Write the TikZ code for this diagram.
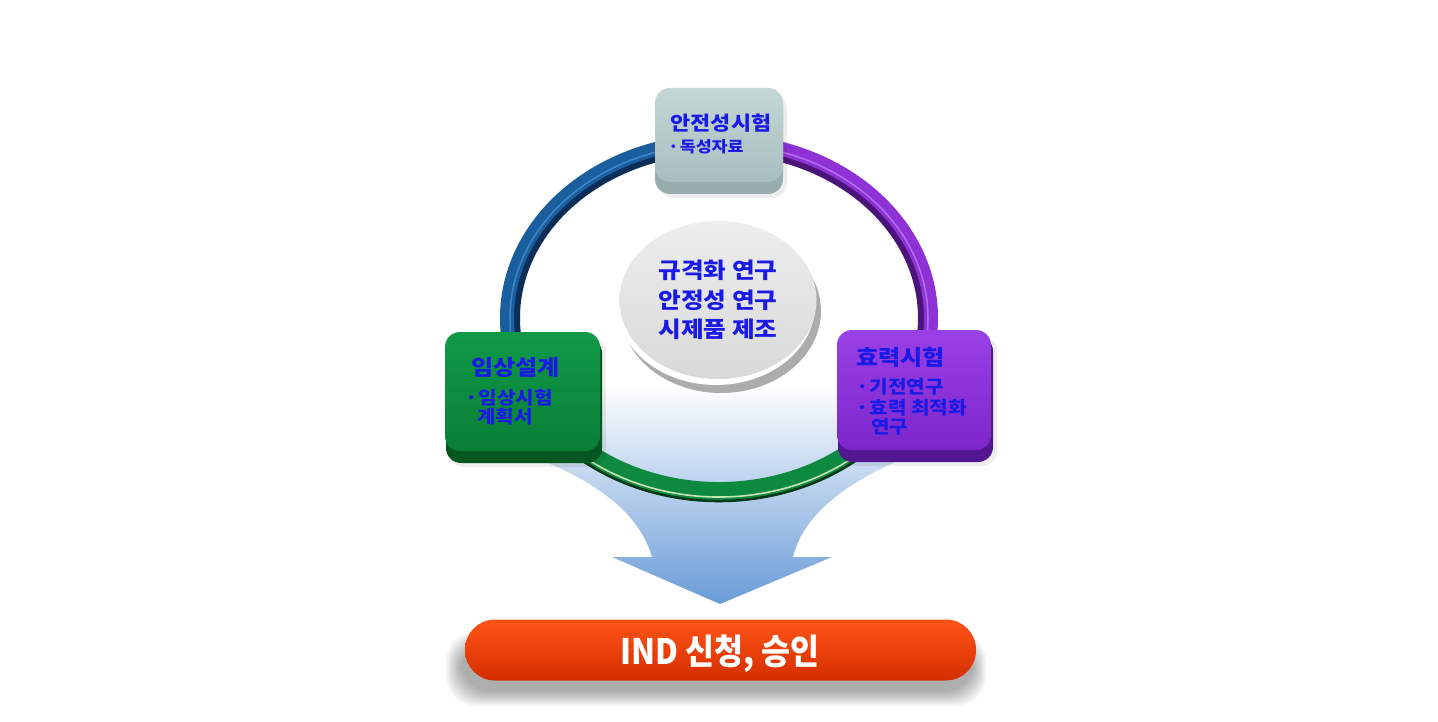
\documentclass[tikz,border=0pt]{standalone}
\usepackage{fontspec}
\newfontfamily\krw{Noto Sans CJK KR}[FakeStretch=1.12]
\newfontfamily\krn{Noto Sans CJK KR}[FakeStretch=0.9]
\usetikzlibrary{shapes.geometric}
\definecolor{txtblue}{HTML}{1A1AE6}
\definecolor{ringblue}{HTML}{1A5E9E}
\definecolor{ringbluedk}{HTML}{0A2E58}
\definecolor{ringbluelt}{HTML}{3A86C8}
\definecolor{ringpur}{HTML}{8E32D6}
\definecolor{ringpurdk}{HTML}{4A1478}
\definecolor{ringpurlt}{HTML}{B070EE}
\definecolor{ringgrn}{HTML}{0E8A40}
\definecolor{ringgrndk}{HTML}{053A18}
\definecolor{ringgrnlt}{HTML}{C8E4B4}
\definecolor{boxgraytop}{HTML}{C4D6D6}
\definecolor{boxgraybot}{HTML}{A8BEBE}
\definecolor{boxgraydk}{HTML}{98AEAE}
\definecolor{boxgrntop}{HTML}{109A48}
\definecolor{boxgrnbot}{HTML}{0A7E36}
\definecolor{boxgrndk}{HTML}{05561F}
\definecolor{boxpurtop}{HTML}{9A40E6}
\definecolor{boxpurbot}{HTML}{7C26CA}
\definecolor{boxpurdk}{HTML}{521690}
\definecolor{arrowmid}{HTML}{C2D7F0}
\definecolor{arrowdk}{HTML}{6A9CD8}
\definecolor{bartop}{HTML}{FF5418}
\definecolor{barmid}{HTML}{FF3C00}
\definecolor{barbot}{HTML}{D42E00}
\tikzset{
  ttl/.style={font=\krw\bfseries\fontsize{21.5}{21.5}\selectfont, text=txtblue, inner sep=0pt},
  subtxt/.style={font=\krw\bfseries\fontsize{18}{18}\selectfont, text=txtblue, inner sep=0pt, anchor=west},
  boxface/.style={rectangle, rounded corners=15pt, inner sep=0pt},
  bevel/.style={rounded corners=15pt},
}
\begin{document}
\begin{tikzpicture}[x=1pt,y=-1pt]
\fill[white] (0,0) rectangle (1438,722);
\useasboundingbox (0,0) rectangle (1438,722);

% big arrow
\shade[top color=white, middle color=arrowmid, bottom color=arrowdk]
  (548,385) -- (548,463) .. controls (600,485) and (640,515) .. (652,557)
  -- (612,557) -- (720,604) -- (832,557) -- (793,557)
  .. controls (803,515) and (845,485) .. (893,463) -- (893,385) -- cycle;

% ring : green (bottom)
\draw[line width=20, ringgrn] (719,318) ++(-195:209 and 174)
  arc[start angle=-195, end angle=-345, x radius=209, y radius=174];
\draw[line width=1.6, ringgrnlt] (719,318) ++(-195:214 and 179)
  arc[start angle=-195, end angle=-345, x radius=214, y radius=179];
\draw[line width=2.5, ringgrndk] (719,318) ++(-195:218 and 183)
  arc[start angle=-195, end angle=-345, x radius=218, y radius=183];
% ring : blue (top left)
\draw[line width=8, ringbluedk] (719,318) ++(-95:203 and 168)
  arc[start angle=-95, end angle=-192, x radius=203, y radius=168];
\draw[line width=14, ringblue] (719,318) ++(-95:212 and 177)
  arc[start angle=-95, end angle=-192, x radius=212, y radius=177];
\draw[line width=1.5, ringbluelt] (719,318) ++(-95:209 and 174)
  arc[start angle=-95, end angle=-192, x radius=209, y radius=174];
% ring : purple (top right)
\draw[line width=8, ringpurdk] (719,318) ++(-85:203 and 168)
  arc[start angle=-85, end angle=12, x radius=203, y radius=168];
\draw[line width=14, ringpur] (719,318) ++(-85:212 and 177)
  arc[start angle=-85, end angle=12, x radius=212, y radius=177];
\draw[line width=1.5, ringpurlt] (719,318) ++(-85:209 and 174)
  arc[start angle=-85, end angle=12, x radius=209, y radius=174];

% centre disc
\fill[gray!65] (721,311) ellipse [x radius=100, y radius=82];
\fill[white] (716,305) ellipse [x radius=99, y radius=80];
\node[ellipse, minimum width=197pt, minimum height=158pt, inner sep=0pt,
  top color=gray!14, bottom color=gray!30, align=center,
  font=\krw\bfseries\fontsize{22}{29.5}\selectfont, text=txtblue]
  (core) at (718,300) {규격화 연구\\안정성 연구\\시제품 제조};

% top box
\fill[black, opacity=0.07, bevel] (659,94) rectangle (787,198);
\fill[boxgraydk, bevel] (655,92) rectangle (783,194);
\node[boxface, minimum width=128pt, minimum height=94pt,
  top color=boxgraytop, bottom color=boxgraybot] (safety) at (719,135) {};
\node[ttl, font=\krw\bfseries\fontsize{19.5}{19.5}\selectfont] (safetyT) at (721,123) {안전성시험};
\node[subtxt, font=\krw\bfseries\fontsize{15.5}{15.5}\selectfont] (safetyA) at (668,147) {·\hspace{1pt}독성자료};

% left box
\fill[black, opacity=0.07, bevel] (449,338) rectangle (606,467);
\fill[boxgrndk, bevel] (446,338) rectangle (602,463);
\node[boxface, minimum width=155pt, minimum height=119pt,
  top color=boxgrntop, bottom color=boxgrnbot] (clinic) at (522.5,391.5) {};
\node[ttl, anchor=west] (clinicT) at (471,367) {임상설계};
\node[subtxt] (clinicA) at (465,398) {·\hspace{1pt}임상시험};
\node[subtxt] (clinicB) at (477,417) {계획서};

% right box
\fill[black, opacity=0.07, bevel] (841,336) rectangle (997,466);
\fill[boxpurdk, bevel] (838,336) rectangle (993,462);
\node[boxface, minimum width=154pt, minimum height=120pt,
  top color=boxpurtop, bottom color=boxpurbot] (efficacy) at (914,390) {};
\node[ttl, anchor=west] (efficacyT) at (856,357) {효력시험};
\node[subtxt] (efficacyA) at (856,387) {·\hspace{1pt}기전연구};
\node[subtxt] (efficacyB) at (856,408) {·\hspace{1pt}효력 최적화};
\node[subtxt] (efficacyC) at (871,427) {연구};

% bottom bar shadow
\foreach \d in {0,1,...,9} {
  \fill[black, opacity=0.035, rounded corners=30pt]
    ({446+\d*1.6},{632+\d*1.2}) rectangle ({986-\d*1.4},{706-\d*1.6});
}
% bottom bar
\node[rectangle, rounded corners=30pt, minimum width=511pt, minimum height=61pt,
  inner sep=0pt, top color=bartop, middle color=barmid, bottom color=barbot]
  (ind) at (720.5,650) {};
\node[text=white, inner sep=0pt, font=\krn\bfseries\fontsize{35}{35}\selectfont]
  (indT) at (720,654) {IND 신청, 승인};
\end{tikzpicture}
\end{document}
